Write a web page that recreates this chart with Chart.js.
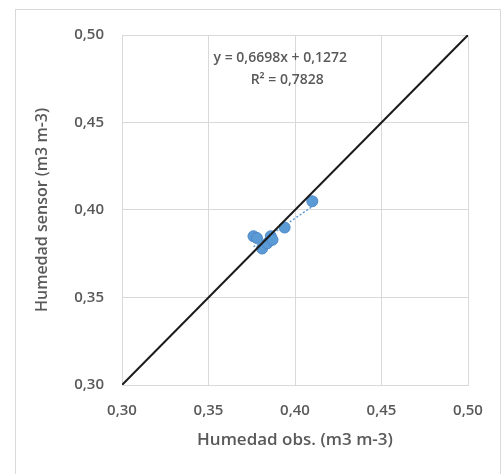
<!DOCTYPE html>
<html>
<head>
<meta charset="utf-8">
<script src="https://cdn.jsdelivr.net/npm/chart.js@4.4.1/dist/chart.umd.min.js"></script>
<style>
    body { margin: 0; background: #fff; }
    canvas { display: block; }
</style>
</head>
<body>
<canvas id="myChart" width="503" height="474"></canvas>
<script>
// observed vs sensor soil moisture
const obsValues = [0.376, 0.378, 0.381, 0.384, 0.386, 0.387, 0.394, 0.410];
const sensorValues = [0.385, 0.384, 0.378, 0.381, 0.385, 0.383, 0.390, 0.405];

// dotted trend line, read at its two ends
const trendX = [0.376, 0.410];
const trendY = [0.379, 0.402];

// 1:1 line
const lineX = [0.30, 0.50];
const lineY = [0.30, 0.50];

const tickValues = [0.30, 0.35, 0.40, 0.45, 0.50];
const equationLines = ['y = 0,6698x + 0,1272', 'R² = 0,7828'];

const textColor = '#595959';
const gridColor = '#D9D9D9';
const pointColor = '#5B9BD5';
const fontFamily = '"Open Sans", "Liberation Sans", sans-serif';

function toPoints(xs, ys) {
    return xs.map((x, i) => ({ x: x, y: ys[i] }));
}

function formatTick(v) {
    return v.toFixed(2).replace('.', ',');
}

const frame = {
    id: 'frame',
    beforeDraw(chart) {
        const ctx = chart.ctx;
        ctx.save();
        ctx.strokeStyle = '#D9D9D9';
        ctx.lineWidth = 1;
        ctx.strokeRect(15.5, 9.5, 485, 480);
        ctx.restore();
    }
};

const equation = {
    id: 'equation',
    afterDatasetsDraw(chart) {
        const ctx = chart.ctx;
        const xs = chart.scales.x;
        const ys = chart.scales.y;
        ctx.save();
        ctx.fillStyle = textColor;
        ctx.font = '600 14px ' + fontFamily;
        ctx.textAlign = 'center';
        ctx.textBaseline = 'middle';
        ctx.fillText(equationLines[0], xs.getPixelForValue(0.3915), ys.getPixelForValue(0.4869));
        ctx.fillText(equationLines[1], xs.getPixelForValue(0.3955), ys.getPixelForValue(0.4743));
        ctx.restore();
    }
};

const ctx = document.getElementById('myChart');

const chart = new Chart(ctx, {
    type: 'scatter',
    data: {
        datasets: [{
            label: '1:1',
            data: toPoints(lineX, lineY),
            showLine: true,
            borderColor: '#1a1a1a',
            borderWidth: 2,
            pointRadius: 0,
            order: 0
        },
        {
            label: 'Humedad',
            data: toPoints(obsValues, sensorValues),
            backgroundColor: pointColor,
            borderColor: '#4F88C6',
            borderWidth: 1,
            pointRadius: 5.5,
            order: 2
        },
        {
            label: 'Lineal',
            data: toPoints(trendX, trendY),
            showLine: true,
            borderColor: pointColor,
            borderWidth: 1.5,
            borderDash: [2, 2],
            pointRadius: 0,
            order: 1
        }]
    },
    options: {
        responsive: false,
        animation: false,
        layout: {
            padding: { left: 0, top: 35, right: 35, bottom: 0 }
        },
        plugins: {
            legend: { display: false },
            tooltip: { enabled: false }
        },
        scales: {
            x: {
                type: 'linear',
                min: 0.30,
                max: 0.50,
                afterBuildTicks: (scale) => { scale.ticks = tickValues.map(v => ({ value: v })); },
                afterFit: (scale) => { scale.height = 89; },
                grid: { color: gridColor, drawTicks: false },
                border: { color: gridColor },
                ticks: {
                    color: textColor,
                    font: { size: 15, weight: '600', family: fontFamily },
                    padding: 17,
                    maxRotation: 0,
                    callback: (v) => formatTick(v)
                },
                title: {
                    display: true,
                    text: 'Humedad obs. (m3 m-3)',
                    color: textColor,
                    font: { size: 17, weight: '600', family: fontFamily },
                    padding: { top: 24, bottom: 24 }
                }
            },
            y: {
                type: 'linear',
                min: 0.30,
                max: 0.50,
                afterBuildTicks: (scale) => { scale.ticks = tickValues.map(v => ({ value: v })); },
                afterFit: (scale) => { scale.width = 122; },
                grid: { color: gridColor, drawTicks: false },
                border: { color: gridColor },
                ticks: {
                    color: textColor,
                    font: { size: 15, weight: '600', family: fontFamily },
                    padding: 18,
                    callback: (v) => formatTick(v)
                },
                title: {
                    display: true,
                    text: 'Humedad sensor (m3 m-3)',
                    color: textColor,
                    font: { size: 16, weight: '600', family: fontFamily },
                    padding: { top: 33, bottom: 33 }
                }
            }
        }
    },
    plugins: [frame, equation]
});
</script>
</body>
</html>
